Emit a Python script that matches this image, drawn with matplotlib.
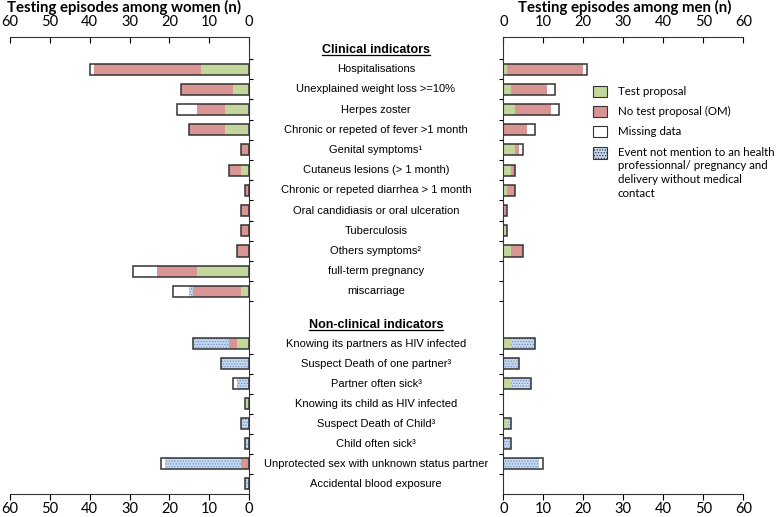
import numpy as np
import matplotlib
matplotlib.use("Agg")
import matplotlib.pyplot as plt
import matplotlib.transforms as mtransforms
import matplotlib.lines as mlines
from matplotlib.patches import Rectangle
from matplotlib.lines import Line2D

plt.rcParams['hatch.linewidth'] = 0.6

# données
clinical_labels = ["Hospitalisations", "Unexplained weight loss >=10%", "Herpes zoster",
                   "Chronic or repeted of fever >1 month", "Genital symptoms¹",
                   "Cutaneus lesions (> 1 month)", "Chronic or repeted diarrhea > 1 month",
                   "Oral candidiasis or oral ulceration", "Tuberculosis", "Others symptoms²",
                   "full-term pregnancy", "miscarriage"]
nonclinical_labels = ["Knowing its partners as HIV infected", "Suspect Death of one partner³",
                      "Partner often sick³", "Knowing its child as HIV infected",
                      "Suspect Death of Child³", "Child often sick³",
                      "Unprotected sex with unknown status partner", "Accidental blood exposure"]

women_test    = [12, 4, 6, 6, 0, 2, 0, 0, 0, 0, 13, 2,   3, 0, 0, 1, 0, 0, 0, 0]
women_notest  = [27, 13, 7, 9, 2, 3, 1, 2, 2, 3, 10, 12, 2, 0, 0, 0, 0, 0, 2, 0]
women_event   = [0, 0, 0, 0, 0, 0, 0, 0, 0, 0, 0, 1,     9, 7, 3, 0, 2, 1, 19, 1]
women_missing = [1, 0, 5, 0, 0, 0, 0, 0, 0, 0, 6, 4,     0, 0, 1, 0, 0, 0, 1, 0]

men_test    = [1, 2, 3, 0, 3, 2, 1, 0, 1, 2, 0, 0,  2, 0, 2, 0, 1, 0, 0, 0]
men_notest  = [19, 9, 9, 6, 1, 1, 2, 1, 0, 3, 0, 0, 0, 0, 0, 0, 0, 0, 0, 0]
men_event   = [0, 0, 0, 0, 0, 0, 0, 0, 0, 0, 0, 0,  6, 4, 5, 0, 1, 2, 9, 0]
men_missing = [1, 2, 2, 2, 1, 0, 0, 0, 0, 0, 0, 0,  0, 0, 0, 0, 0, 0, 1, 0]

legend_labels = ["Test proposal", "No test proposal (OM)", "Missing data",
                 "Event not mention to an health\nprofessionnal/ pregnancy and\ndelivery without medical\ncontact"]

GREEN = "#c3d69b"
PINK = "#d99594"
BLUE = "#c6d9f1"
HATCH_C = "#6f8fc0"
EDGE = "#333333"

# positions verticales (deux blocs décalés comme dans l'original)
pos_clin = np.arange(1, 13)
pos_nonclin = 14.6 + np.arange(8) * 0.99
positions = np.concatenate([pos_clin, pos_nonclin])
head_clin = 0.05
head_nonclin = 13.65
yticks = np.concatenate([np.arange(13) + 0.5, pos_nonclin[:-1] + 0.495])

fig = plt.figure(figsize=(7.78, 5.17), dpi=100)
axL = fig.add_axes([10 / 778, 1 - 494 / 517, 239 / 778, 457 / 517])
axR = fig.add_axes([503.3 / 778, 1 - 494 / 517, 240 / 778, 457 / 517])

H = 0.55


def stacked(ax, test, notest, event, missing):
    test = np.array(test); notest = np.array(notest)
    event = np.array(event); missing = np.array(missing)
    left = np.zeros(len(test))
    ax.barh(positions, test, H, left=left, color=GREEN, linewidth=0)
    left = left + test
    ax.barh(positions, notest, H, left=left, color=PINK, linewidth=0)
    left = left + notest
    ax.barh(positions, event, H, left=left, color=BLUE, edgecolor=HATCH_C,
            hatch="......", linewidth=0)
    left = left + event
    ax.barh(positions, missing, H, left=left, color="white", linewidth=0)
    left = left + missing
    total = np.where(left > 0, left, np.nan)
    ax.barh(positions, total, H, fill=False, edgecolor=EDGE, linewidth=1.1)


stacked(axL, women_test, women_notest, women_event, women_missing)
stacked(axR, men_test, men_notest, men_event, men_missing)

for ax in (axL, axR):
    ax.set_ylim(22.03, -0.59)
    ax.set_xticks(np.arange(0, 61, 10))
    ax.tick_params(axis='x', top=True, labeltop=True, bottom=True, labelbottom=True,
                   labelsize=10.5, length=4, width=0.8, pad=1.5)
    for lab in ax.get_xticklabels():
        lab.set_fontfamily("Lato")
    # graduations du haut tournées vers l'intérieur, comme dans l'original
    for tk in ax.xaxis.get_major_ticks():
        tk.tick2line.set_marker(mlines.TICKDOWN)
    ax.set_yticks(yticks)
    ax.set_yticklabels([])
    for s in ax.spines.values():
        s.set_linewidth(0.8)
        s.set_color("#333333")

axL.set_xlim(60, 0)
axR.set_xlim(0, 60)
axL.spines['left'].set_visible(False)
axR.spines['right'].set_visible(False)
axL.yaxis.tick_right()
axL.tick_params(axis='y', length=3, direction='out', width=0.8)
axR.tick_params(axis='y', length=3, direction='out', width=0.8)

# titres
fig.text(124 / 778, 1 - 7 / 517, "Testing episodes among women (n)", ha='center', va='center',
         fontsize=10.8, fontweight='bold', family="Lato")
fig.text(625 / 778, 1 - 7 / 517, "Testing episodes among men (n)", ha='center', va='center',
         fontsize=10.8, fontweight='bold', family="Lato")

# libellés centraux
trans = mtransforms.blended_transform_factory(fig.transFigure, axL.transData)
xc = 376 / 778
for p, lab in zip(positions, clinical_labels + nonclinical_labels):
    axL.text(xc, p, lab, transform=trans, ha='center', va='center', fontsize=8,
             family="Liberation Sans", clip_on=False)
heads = []
for p, lab in [(head_clin, "Clinical indicators"), (head_nonclin, "Non-clinical indicators")]:
    heads.append(axL.text(xc, p, lab, transform=trans, ha='center', va='center', fontsize=9,
                          fontweight='bold', family="Liberation Sans", clip_on=False))

# soulignement des titres de blocs
fig.canvas.draw()
r = fig.canvas.get_renderer()
for t in heads:
    bb = t.get_window_extent(r).transformed(fig.transFigure.inverted())
    fig.add_artist(Line2D([bb.x0, bb.x1], [bb.y0 + 0.002, bb.y0 + 0.002],
                          transform=fig.transFigure, color='black', linewidth=0.9))

# légende manuelle
lx, lw, lh = 593 / 778, 14 / 778, 11 / 517
leg_y = [92, 112, 132, 153]
styles = [dict(facecolor=GREEN), dict(facecolor=PINK), dict(facecolor='white'),
          dict(facecolor=BLUE, hatch='......')]
for yy, lab, st in zip(leg_y, legend_labels, styles):
    yf = 1 - yy / 517
    fig.add_artist(Rectangle((lx, yf - lh / 2), lw, lh, transform=fig.transFigure,
                             edgecolor=EDGE, linewidth=0.8, **st))
    fig.text(618 / 778, yf + 0.0125, lab, ha='left', va='top', fontsize=8.3, family="Lato",
             linespacing=1.3)

fig.savefig("out.png", dpi=100)
